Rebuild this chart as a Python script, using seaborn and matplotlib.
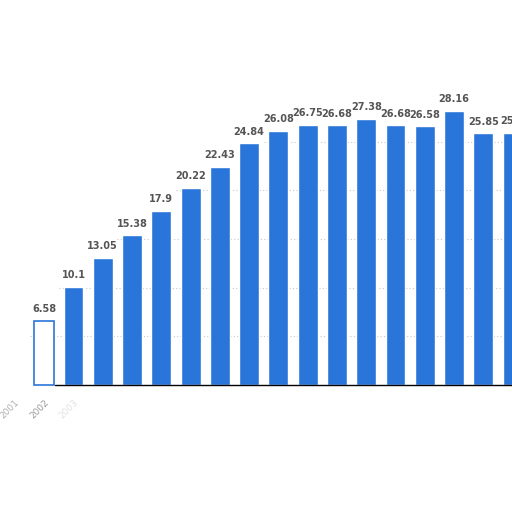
import numpy as np
import pandas as pd
import matplotlib
matplotlib.use("Agg")
import matplotlib.pyplot as plt
import seaborn as sns

years = ["2001", "2002", "2003", "2004", "2005", "2006", "2007", "2008", "2009",
         "2010", "2011", "2012", "2013", "2014", "2015", "2016", "2017", "2018"]
values = [np.nan, 6.58, 10.1, 13.05, 15.38, 17.9, 20.22, 22.43, 24.84,
          26.08, 26.75, 26.68, 27.38, 26.68, 26.58, 28.16, 25.85, 25.9]
labels = ["", "6.58", "10.1", "13.05", "15.38", "17.9", "20.22", "22.43", "24.84",
          "26.08", "26.75", "26.68", "27.38", "26.68", "26.58", "28.16", "25.85", "25.9"]
tick_labels = ["2001", "2002", "2003"]
tick_colors = ["#b0b0b0", "#9a9a9a", "#e2e2e2"]
grid_values = [5, 10, 15, 20, 25]

df = pd.DataFrame({"year": years, "value": values})

sns.set_theme(style="white")
plt.rcParams["font.family"] = ["DejaVu Sans"]

fig = plt.figure(figsize=(5.12, 5.12), dpi=100)
ax = fig.add_axes([0, 0, 1, 1])
ax.set_facecolor("white")

blue = "#2a75d9"
sns.barplot(data=df, x="year", y="value", order=years, color=blue,
            width=0.68, saturation=1, ax=ax, zorder=3)

# the 2002 bar is drawn as an outlined (white) bar
idx_2002 = years.index("2002")
for p in ax.patches:
    cx = p.get_x() + p.get_width() / 2
    if abs(cx - idx_2002) < 0.1:
        p.set_facecolor("white")
        p.set_edgecolor(blue)
        p.set_linewidth(1.2)

# dotted gridlines, only inside the visible fragment
for g in grid_values:
    start = next(i for i, v in enumerate(values) if not np.isnan(v) and v > g)
    ax.hlines(g, start - 0.5, len(years), colors="#c8c8c8", linestyles=(0, (1, 2)),
              linewidth=0.8, zorder=1)

for i, (v, lab) in enumerate(zip(values, labels)):
    if lab:
        ax.text(i, v + 0.7, lab, ha="center", va="bottom", fontsize=7,
                fontweight="bold", color="#555555", zorder=4)

ax.axhline(0, xmin=55 / 512, xmax=1, color="black", linewidth=1, zorder=4)

ax.set_xlim(-0.51, 16.98)
ax.set_ylim(-13.05, 39.57)

for i, (t, c) in enumerate(zip(tick_labels, tick_colors)):
    ax.text(i, -1.3, t, rotation=45, rotation_mode="anchor", ha="right", va="top",
            fontsize=6.5, color=c)

ax.set_xticks([])
ax.set_yticks([])
ax.set_xlabel("")
ax.set_ylabel("")
for s in ax.spines.values():
    s.set_visible(False)

fig.savefig("out.png", dpi=100, facecolor="white")
